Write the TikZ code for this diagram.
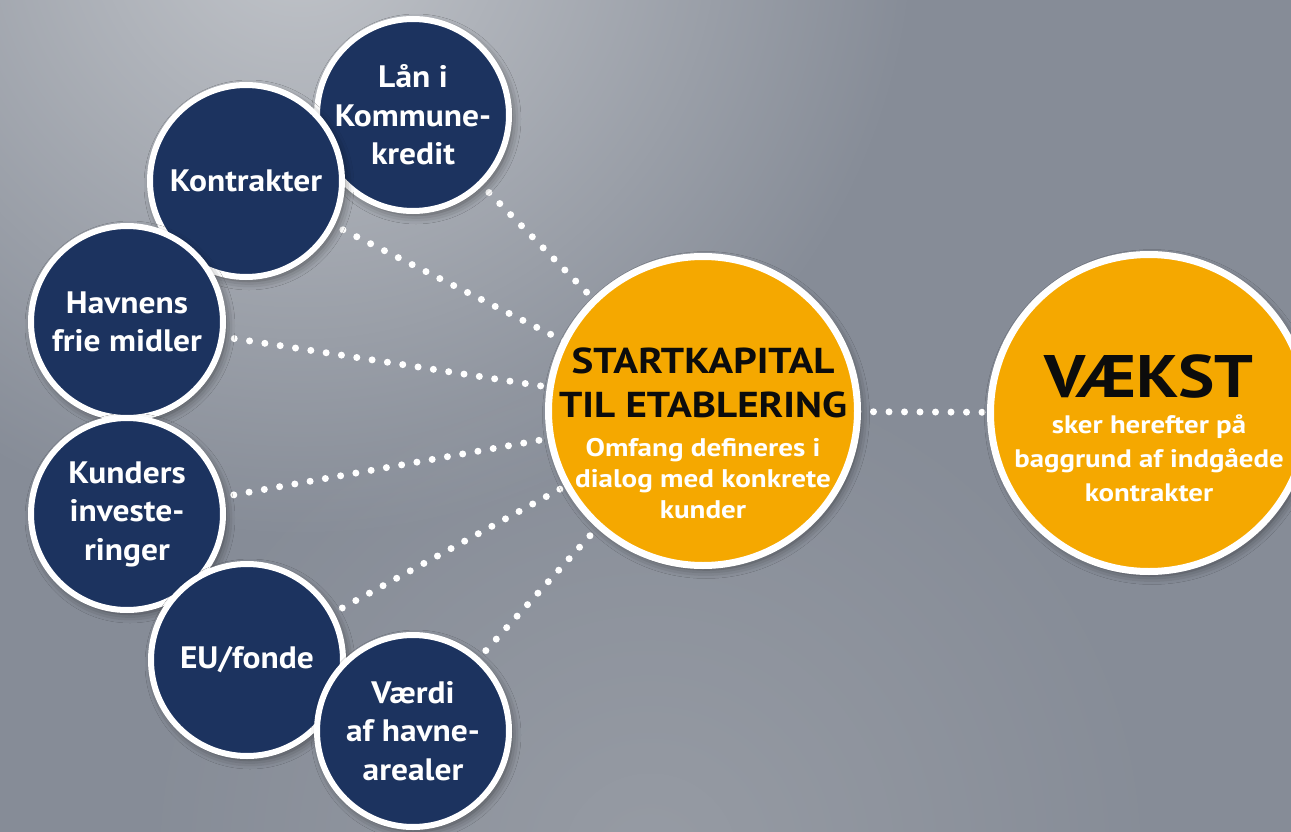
\documentclass[tikz,border=0pt]{standalone}
\usepackage{fontspec}
\setmainfont{PT Sans}[FakeStretch=1.08]
\newfontfamily\widefont{PT Sans}[FakeStretch=1.14]
\usetikzlibrary{shadows.blur,fadings}
\definecolor{navy}{HTML}{1C335F}
\definecolor{gold}{HTML}{F5A800}
\definecolor{bgbase}{HTML}{868C97}
\definecolor{bglight}{HTML}{C3C6CB}
\definecolor{bgmid}{HTML}{A2A6AD}
\definecolor{ink}{HTML}{0C0C0C}
\tikzfading[name=glow, inner color=transparent!0, outer color=transparent!100]
\pgfdeclarelayer{bg}
\pgfsetlayers{bg,main}
\tikzset{
  shad/.style={blur shadow={shadow xshift=3pt, shadow yshift=-4pt, shadow blur radius=9pt, shadow opacity=50}},
  small/.style={circle, fill=navy, draw=white, line width=6pt, minimum size=192pt, inner sep=0pt,
    text=white, align=center, font=\fontsize{31}{38.5}\selectfont\bfseries, shad},
  big/.style={circle, fill=gold, draw=white, line width=7pt, inner sep=0pt, shad},
  head/.style={text=ink, align=center, inner sep=0pt},
  sub/.style={text=white, align=center, inner sep=0pt},
  dots/.style={white, line width=7pt, line cap=round, dash pattern=on 0pt off 15.5pt}
}
\begin{document}
\begin{tikzpicture}[x=1pt,y=-1pt]
\clip (0,0) rectangle (1291,832);
\useasboundingbox (0,0) rectangle (1291,832);

\node[small] (lan) at (413,115) {Lån i\\Kommune-\\kredit};
\node[small] (kon) at (246,181) {Kontrakter};
\node[small] (hav) at (127,322) {Havnens\\frie midler};
\node[small] (kun) at (127,514) {Kunders\\investe-\\ringer};
\node[small] (eu)  at (247,660) {EU/fonde};
\node[small] (vae) at (413,731) {Værdi\\af havne-\\arealer};

\node[big, minimum size=309pt] (start) at (703,411) {};
\node[big, minimum size=317pt] (vaekst) at (1149,413) {};

\node[head, font=\widefont\fontsize{36}{44}\selectfont\bfseries] (starthead) at (703,383) {STARTKAPITAL\\TIL ETABLERING};
\node[sub, font=\widefont\fontsize{25.5}{31}\selectfont\bfseries] (startsub) at (703,479) {Omfang defineres i\\dialog med konkrete\\kunder};

\node[head, font=\widefont\fontsize{60}{60}\selectfont\bfseries] (vaeksthead) at (1149,376) {VÆKST};
\node[sub, font=\widefont\fontsize{25.3}{34}\selectfont\bfseries] (vaekstsub) at (1149,458) {sker herefter på\\baggrund af indgåede\\kontrakter};

\begin{pgfonlayer}{bg}
  \fill[bgbase] (0,0) rectangle (1291,832);
  \fill[bglight, path fading=glow] (300,-80) circle (620);
  \fill[bgmid, path fading=glow, opacity=0.6] (650,860) circle (520);
  \draw[dots] (lan.center) -- (start.center);
  \draw[dots] (kon.center) -- (start.center);
  \draw[dots] (hav.center) -- (start.center);
  \draw[dots] (kun.center) -- (start.center);
  \draw[dots] (eu.center) -- (start.center);
  \draw[dots] (vae.center) -- (start.center);
  \draw[dots] (start.center) -- (vaekst.center);
\end{pgfonlayer}
\end{tikzpicture}
\end{document}
